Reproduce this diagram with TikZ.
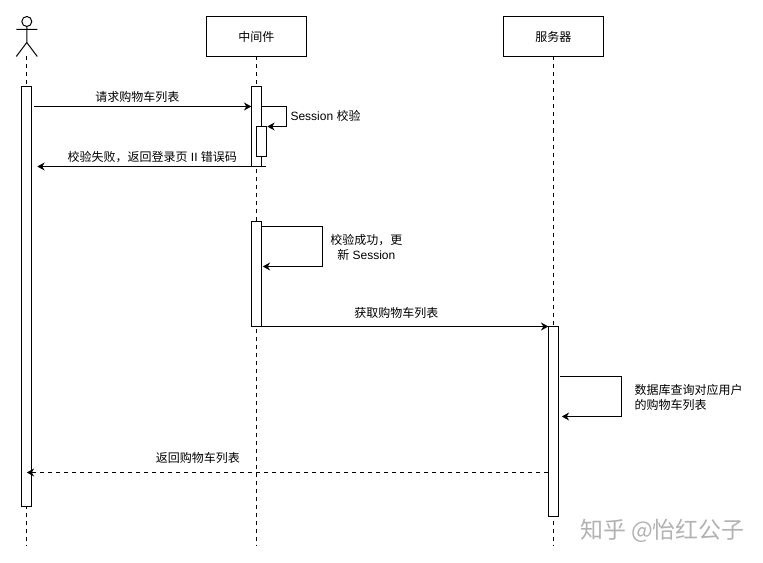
\documentclass[tikz,border=0pt]{standalone}
\usepackage{xcolor}
\usepackage{fontspec}
\setmainfont{Liberation Sans}
\newfontfamily\cjk{Noto Sans CJK SC}
\usetikzlibrary{arrows.meta, positioning}
\definecolor{markgray}{RGB}{178,178,178}
\tikzset{
  box/.style={rectangle, draw=black, fill=white, line width=0.75pt, outer sep=0pt, minimum width=75pt, minimum height=30pt, font=\cjk\fontsize{9}{11}\selectfont, align=center},
  bar/.style={rectangle, draw=black, fill=white, line width=0.75pt, outer sep=0pt, minimum width=7.5pt, inner sep=0pt},
  life/.style={dashed, line width=0.75pt, dash pattern=on 3pt off 3pt},
  msg/.style={-{Stealth[length=5.5pt, width=6pt]}, line width=0.75pt},
  reply/.style={msg, dash pattern=on 3pt off 3pt},
  lbl/.style={font=\fontsize{9}{11.25}\selectfont, align=center, inner sep=0pt},
}
\begin{document}
\begin{tikzpicture}[x=0.75pt, y=-0.75pt]
  \useasboundingbox (-0.3,-0.5) rectangle (762.7,562.5);
  % Actor
  \node[circle, draw, line width=0.75pt, minimum size=7.5pt, inner sep=0pt, outer sep=0pt] (head) at (26.5,21) {};
  \coordinate (hip) at (26.5,42);
  \coordinate (armL) at (16,29);
  \coordinate (armR) at (37,29);
  \coordinate (footL) at (16,56);
  \coordinate (footR) at (37,56);
  \draw[line width=0.75pt] (head) -- (hip) (armL) -- (armR) (footL) -- (hip) -- (footR);
  % Participants
  \node[box] (middle) at (256,36) {中间件};
  \node[box] (server) at (553,36) {服务器};
  % Lifeline ends
  \coordinate (userEnd) at (26.5,545);
  \coordinate (middleEnd) at (256,545);
  \coordinate (serverEnd) at (553,545);
  \draw[life] (footL -| hip) -- (userEnd);
  \draw[life] (middle) -- (middleEnd);
  \draw[life] (server) -- (serverEnd);
  % Activation bars
  \node[bar, minimum height=315pt, anchor=north] (userBar) at (26.5,86) {};
  \node[bar, minimum height=60pt, below=22.5pt of middle] (midBar) {};
  \node[bar, minimum height=22.5pt, anchor=north] (checkBar) at (261,126) {};
  \node[bar, minimum height=78.75pt, below=41.25pt of midBar] (okBar) {};
  \node[bar, minimum height=142.5pt, anchor=north] (serverBar) at (553,326) {};

  % Cart request
  \coordinate (reqFrom) at (33.5,106);
  \draw[msg] (reqFrom) -- (midBar.west |- reqFrom);
  \node[lbl] (reqLbl) at (137,96.5) {\cjk 请求购物车列表};
  % Session check
  \coordinate (chkA) at (261,106);
  \coordinate (chkB) at (286,106);
  \coordinate (chkC) at (286,126);
  \coordinate (chkD) at (267,126);
  \draw[msg] (chkA) -- (chkB) -- (chkC) -- (chkD);
  \node[lbl, anchor=west] (chkLbl) at (290,115) {Session {\cjk 校验}};
  % Failure reply
  \coordinate (failFrom) at (266,166);
  \coordinate (failTo) at (37,166);
  \draw[msg] (failFrom) -- (failTo);
  \node[lbl] (failLbl) at (152,156.5) {{\cjk 校验失败，返回登录页} II {\cjk 错误码}};
  % Session renewed
  \coordinate (okA) at (261,226);
  \coordinate (okB) at (322,226);
  \coordinate (okC) at (322,266);
  \coordinate (okD) at (262.5,266);
  \draw[msg] (okA) -- (okB) -- (okC) -- (okD);
  \node[lbl] (okLbl) at (366,247) {{\cjk 校验成功，更}\\{\cjk 新} Session};
  % Forward to server
  \coordinate (fwdFrom) at (261,326);
  \draw[msg] (fwdFrom) -- (serverBar.north west);
  \node[lbl] (fwdLbl) at (396,312.5) {\cjk 获取购物车列表};
  % Database query
  \coordinate (dbA) at (560,376);
  \coordinate (dbB) at (621,376);
  \coordinate (dbC) at (621,416);
  \coordinate (dbD) at (561.5,416);
  \draw[msg] (dbA) -- (dbB) -- (dbC) -- (dbD);
  \node[lbl, anchor=west, align=left] (dbLbl) at (634,396.5) {\cjk 数据库查询对应用户\\\cjk 的购物车列表};
  % Cart reply
  \coordinate (backFrom) at (548,472);
  \coordinate (backTo) at (26.5,472);
  \draw[reply] (backFrom) -- (backTo);
  \node[lbl] (backLbl) at (197.5,457) {\cjk 返回购物车列表};
  % Watermark
  \node[inner sep=0pt, text=markgray, font=\cjk\fontsize{17.2}{20}\selectfont] (mark) at (662,530) {知乎 @怡红公子};
\end{tikzpicture}
\end{document}
